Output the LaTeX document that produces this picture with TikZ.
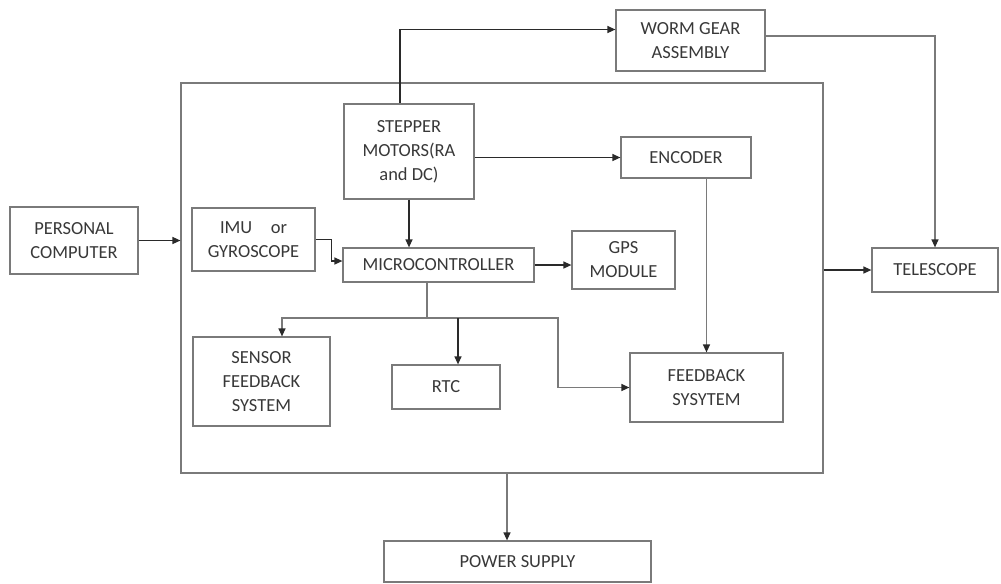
\documentclass[tikz,border=0pt]{standalone}
\usepackage{fontspec}
\setmainfont{Carlito}
\usetikzlibrary{arrows.meta}
\definecolor{boxgray}{HTML}{7A7A7A}
\definecolor{textgray}{HTML}{383838}
\definecolor{wiregray}{HTML}{2A2A2A}
\begin{document}
\begin{tikzpicture}[x=0.02cm, y=-0.02cm,
    blockbox/.style={draw=boxgray, line width=0.7pt, rectangle, inner sep=0pt,
        align=center, text=textgray, font=\fontsize{10.5}{13.6}\selectfont},
    wire/.style={draw=wiregray, line width=0.7pt},
    arr/.style={wire, -{Triangle[length=1.6mm, width=1.4mm, color=wiregray]}}]

    \useasboundingbox (0, 0) rectangle (1001, 583);

    % Outer controller box
    \node[blockbox, minimum width=12.84cm, minimum height=7.80cm] (ctrl) at (502, 278) {};

    % Blocks outside
    \node[blockbox, minimum width=2.56cm, minimum height=1.34cm] (pc) at (74, 240.5) {PERSONAL\\COMPUTER};
    \node[blockbox, minimum width=2.98cm, minimum height=1.22cm] (worm) at (690.5, 40.5) {WORM GEAR\\ASSEMBLY};
    \node[blockbox, minimum width=2.52cm, minimum height=0.88cm] (tele) at (935, 270) {TELESCOPE};
    \node[blockbox, minimum width=5.34cm, minimum height=0.82cm] (power) at (517.5, 561.5) {POWER SUPPLY};

    % Blocks inside
    \node[blockbox, minimum width=2.46cm, minimum height=1.26cm] (imu) at (253.5, 239.5) {IMU\quad or\\GYROSCOPE};
    \node[blockbox, minimum width=2.60cm, minimum height=1.90cm] (stepper) at (409, 151.5) {STEPPER\\MOTORS(RA\\and DC)};
    \node[blockbox, minimum width=2.60cm, minimum height=0.82cm] (enc) at (686, 157.5) {ENCODER};
    \node[blockbox, minimum width=3.82cm, minimum height=0.68cm] (micro) at (438.5, 265) {MICROCONTROLLER};
    \node[blockbox, minimum width=2.06cm, minimum height=1.16cm] (gps) at (623.5, 260) {GPS\\MODULE};
    \node[blockbox, minimum width=2.74cm, minimum height=1.78cm] (sensor) at (261.5, 381.5) {SENSOR\\FEEDBACK\\SYSTEM};
    \node[blockbox, minimum width=2.16cm, minimum height=0.88cm] (rtc) at (446, 387) {RTC};
    \node[blockbox, minimum width=3.06cm, minimum height=1.38cm] (fb) at (706.5, 387.5) {FEEDBACK\\SYSYTEM};

    % Connectors
    \draw[arr] (pc.east) -- (pc.east -| ctrl.west);
    \draw[arr] (imu.east) -- ++(16, 0) |- ([yshift=0.08cm]micro.west);
    \draw[arr] (stepper.south) -- (stepper.south |- micro.north);
    \draw[arr] ([xshift=-0.18cm]stepper.north) |- ([yshift=0.22cm]worm.west);
    \draw[arr] (enc.west -| stepper.east) -- (enc.west);
    \draw[arr] (micro.east) -- (micro.east -| gps.west);
    \draw[arr, draw=boxgray] (fb.north |- enc.south) -- (fb.north);
    \draw[arr, draw=boxgray] ([yshift=0.09cm]worm.east) -| (tele.north);
    \draw[arr] (ctrl.east |- tele.west) -- (tele.west);
    \draw[arr, draw=boxgray] ([xshift=0.1cm]ctrl.south) -- ([xshift=0.1cm]ctrl.south |- power.north);

    % Bus below the microcontroller
    \coordinate (bus) at (427, 318);
    \draw[wire, draw=boxgray] (micro.south -| bus) -- (bus);
    \draw[arr, draw=boxgray] (bus) -| ([xshift=0.41cm]sensor.north);
    \draw[arr, draw=boxgray] (bus) -- ++(131, 0) |- (fb.west);
    \draw[arr] ([xshift=0.24cm]rtc.north |- bus) -- ([xshift=0.24cm]rtc.north);

\end{tikzpicture}
\end{document}
